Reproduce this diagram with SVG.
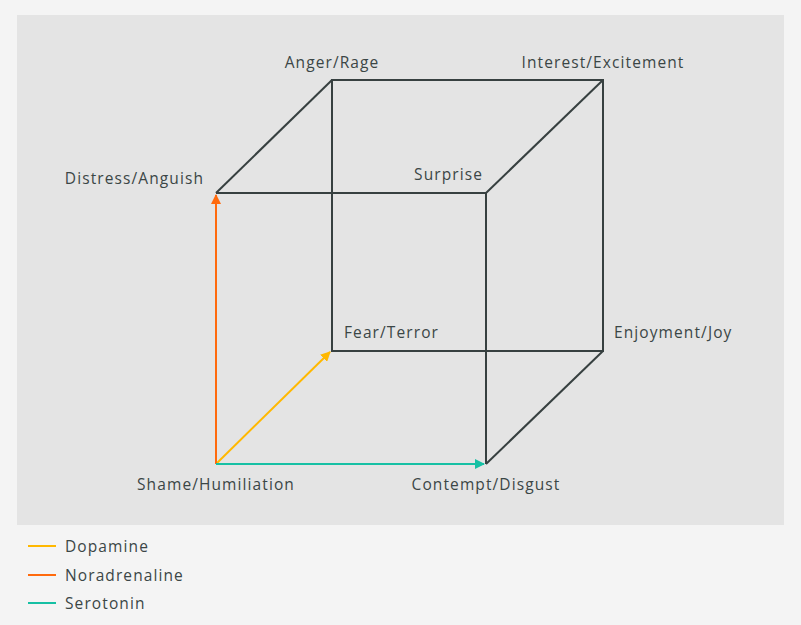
<svg xmlns="http://www.w3.org/2000/svg" width="801" height="625" viewBox="0 0 801 625">
<defs>
<style>
.lbl{font-family:"Open Sans","Liberation Sans",sans-serif;font-size:15.5px;letter-spacing:1.1px;fill:#3b4646}
.edge{stroke:#374040;stroke-width:2;fill:none}
</style>
<marker id="ay" viewBox="0 0 10 10" refX="9" refY="5" markerWidth="5" markerHeight="5" orient="auto" markerUnits="strokeWidth"><path d="M0,0 L10,5 L0,10 z" fill="#ffb800"/></marker>
<marker id="ao" viewBox="0 0 10 10" refX="9" refY="5" markerWidth="5" markerHeight="5" orient="auto" markerUnits="strokeWidth"><path d="M0,0 L10,5 L0,10 z" fill="#ff6a0d"/></marker>
<marker id="at" viewBox="0 0 10 10" refX="9" refY="5" markerWidth="5" markerHeight="5" orient="auto" markerUnits="strokeWidth"><path d="M0,0 L10,5 L0,10 z" fill="#16c0a4"/></marker>
</defs>
<rect x="0" y="0" width="801" height="625" fill="#f4f4f4"/>
<rect x="17" y="15" width="767" height="510" fill="#e4e4e4"/>
<g id="connectors">
<path class="edge" d="M332,80 L603,80 L603,351 L332,351 Z"/>
<path class="edge" d="M216,193 L486,193 L486,464"/>
<line class="edge" x1="332" y1="80" x2="216" y2="193"/>
<line class="edge" x1="603" y1="80" x2="486" y2="193"/>
<line class="edge" x1="603" y1="351" x2="486" y2="464"/>
<line x1="216" y1="464" x2="330" y2="352" stroke="#ffb800" stroke-width="2" marker-end="url(#ay)"/>
<line x1="216" y1="464" x2="216" y2="195" stroke="#ff6a0d" stroke-width="2" marker-end="url(#ao)"/>
<line x1="216" y1="464" x2="484" y2="464" stroke="#16c0a4" stroke-width="2" marker-end="url(#at)"/>
</g>
<g id="n-anger"><text class="lbl" x="332" y="68" text-anchor="middle">Anger/Rage</text></g>
<g id="n-interest"><text class="lbl" x="603" y="68" text-anchor="middle">Interest/Excitement</text></g>
<g id="n-distress"><text class="lbl" x="204" y="184" text-anchor="end">Distress/Anguish</text></g>
<g id="n-surprise"><text class="lbl" x="483" y="180" text-anchor="end">Surprise</text></g>
<g id="n-fear"><text class="lbl" x="344" y="338">Fear/Terror</text></g>
<g id="n-enjoyment"><text class="lbl" x="614" y="338">Enjoyment/Joy</text></g>
<g id="n-shame"><text class="lbl" x="216" y="490" text-anchor="middle">Shame/Humiliation</text></g>
<g id="n-contempt"><text class="lbl" x="486" y="490" text-anchor="middle">Contempt/Disgust</text></g>
<g id="legend">
<line x1="28" y1="546" x2="56" y2="546" stroke="#ffb800" stroke-width="2"/>
<text class="lbl" x="65" y="552">Dopamine</text>
<line x1="28" y1="575" x2="56" y2="575" stroke="#ff6a0d" stroke-width="2"/>
<text class="lbl" x="65" y="581">Noradrenaline</text>
<line x1="28" y1="603" x2="56" y2="603" stroke="#16c0a4" stroke-width="2"/>
<text class="lbl" x="65" y="609">Serotonin</text>
</g>
</svg>
